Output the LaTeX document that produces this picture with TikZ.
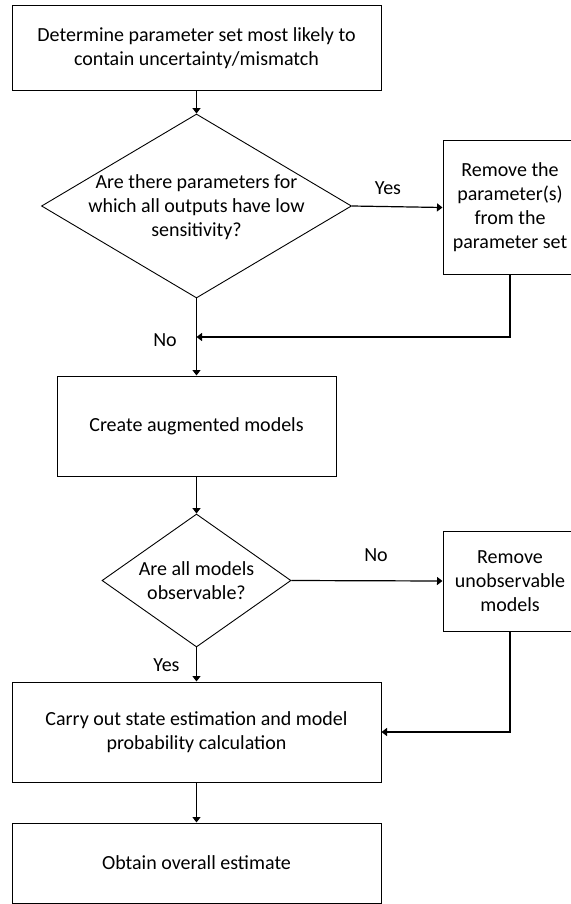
\documentclass[tikz,border=0pt]{standalone}
\usepackage{fontspec}
\setmainfont{Carlito}
\usetikzlibrary{shapes.geometric,arrows.meta}
\begin{document}
\begin{tikzpicture}[x=1pt,y=-1pt,
  every node/.style={font=\fontsize{20}{24}\selectfont},
  box/.style={draw=black, line width=1pt, rectangle, inner sep=0pt, align=center},
  dia/.style={draw=black, line width=0.9pt, diamond, inner sep=0pt},
  txt/.style={align=center, inner sep=0pt},
  lbl/.style={inner sep=0pt},
  arr/.style={draw=black, line width=1.2pt, -{Triangle[length=5.5pt,width=8pt]}},
  ln/.style={draw=black, line width=1.2pt}
]
\useasboundingbox (0,0) rectangle (570,904);
\fill[white] (0,0) rectangle (570,904);

\node[box, minimum width=369pt, minimum height=85pt] (b1) at (196.5,48.5)
  {Determine parameter set most likely to\\contain uncertainty/mismatch};

\node[dia, minimum width=310pt, minimum height=184pt] (d1) at (196.5,206) {};
\node[txt] (t1) at (196.5,207) {Are there parameters for\\which all outputs have low\\sensitivity?};

\node[box, minimum width=134pt, minimum height=133pt] (b2) at (510,207.5)
  {Remove the\\parameter(s)\\from the\\parameter set};

\node[box, minimum width=279pt, minimum height=100pt] (b3) at (196.5,426)
  {Create augmented models};

\node[dia, minimum width=189pt, minimum height=133pt] (d2) at (196.5,580.5) {};
\node[txt] (t2) at (196.5,581) {Are all models\\observable?};

\node[box, minimum width=134pt, minimum height=100pt] (b4) at (510,581)
  {Remove\\unobservable\\models};

\node[box, minimum width=369pt, minimum height=100pt] (b5) at (196.5,732)
  {Carry out state estimation and model\\probability calculation};

\node[box, minimum width=369pt, minimum height=80pt] (b6) at (196.5,863)
  {Obtain overall estimate};

\coordinate (j1) at (196.5,337);

\draw[arr] (b1.south) -- (d1.north);
\draw[arr] (d1.east) -- (b2.west);
\draw[arr] (b2.south) |- (j1);
\draw[arr] (d1.south) -- (b3.north);
\draw[arr] (b3.south) -- (d2.north);
\draw[arr] (d2.east) -- (b4.west);
\draw[arr] (b4.south) |- (b5.east);
\draw[arr] (d2.south) -- (b5.north);
\draw[arr] (b5.south) -- (b6.north);

\node[lbl] (l1) at (388,188) {Yes};
\node[lbl] (l2) at (165,340) {No};
\node[lbl] (l3) at (376,555) {No};
\node[lbl] (l4) at (166.5,665) {Yes};
\end{tikzpicture}
\end{document}
